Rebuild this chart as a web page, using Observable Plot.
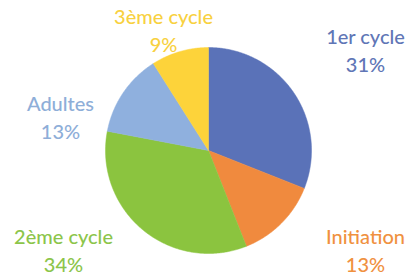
<!DOCTYPE html>
<html>
<head>
<meta charset="utf-8">
<script src="https://cdn.jsdelivr.net/npm/d3@7"></script>
<script src="https://cdn.jsdelivr.net/npm/@observablehq/plot@0.6"></script>
<style>
  html, body { margin: 0; padding: 0; background: #fff; }
  #chart svg { display: block; }
</style>
</head>
<body>
<div id="chart"></div>
<script>
const categories = ["1er cycle", "Initiation", "2ème cycle", "Adultes", "3ème cycle"];
const values = [31, 13, 34, 13, 9];
const colors = ["#5a72b8", "#f08a3e", "#8bc43f", "#8fb0de", "#fdd33a"];
const textColors = ["#6076b6", "#f0913f", "#8cc54a", "#8eaed8", "#f8d13f"];

// layout
const W = 411, H = 279;
const cx = 208, cy = 150, R = 103;
const labelPos = [[365, 49], [365, 249], [63, 249], [60, 116], [163, 29]];

const total = d3.sum(values);
const pts = [];
let acc = 0;
values.forEach((v, i) => {
  const a0 = acc / total * 2 * Math.PI;
  acc += v;
  const a1 = acc / total * 2 * Math.PI;
  const n = Math.max(4, Math.ceil((a1 - a0) / 0.01));
  pts.push({cat: categories[i], x: cx, y: cy});
  for (let k = 0; k <= n; k++) {
    const a = a0 + (a1 - a0) * k / n;
    pts.push({cat: categories[i], x: cx + R * Math.sin(a), y: cy - R * Math.cos(a)});
  }
  pts.push({cat: categories[i], x: cx, y: cy});
});

const labels = categories.map((c, i) => ({
  cat: c,
  text: c + "\n" + Math.round(values[i] / total * 100) + "%",
  x: labelPos[i][0], y: labelPos[i][1], color: textColors[i]
}));

const chart = Plot.plot({
  width: W, height: H,
  margin: 0,
  x: {domain: [0, W], range: [0, W], axis: null},
  y: {domain: [0, H], range: [0, H], axis: null},
  color: {domain: categories, range: colors},
  style: {fontFamily: "Lato, 'Open Sans', sans-serif", background: "#fff"},
  marks: [
    Plot.line(pts, {x: "x", y: "y", z: "cat", fill: "cat", stroke: "cat", strokeWidth: 0.5, curve: "linear"}),
    Plot.text(labels, {x: "x", y: "y", text: "text", fill: d => d.color, fontSize: 20, fontWeight: 500, lineHeight: 1.4, textAnchor: "middle"})
  ]
});
document.getElementById("chart").appendChild(chart);
</script>
</body>
</html>
